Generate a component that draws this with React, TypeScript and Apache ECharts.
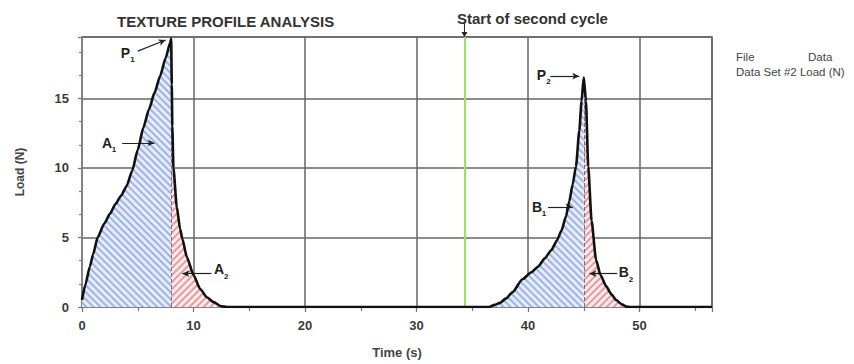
import React, { useEffect, useRef } from 'react';
import * as echarts from 'echarts';

// Time (s) and Load (N) of the measured curve
const timeS = [
  0, 0.3, 0.7, 1.0, 1.4, 2.0, 2.5, 3.0, 3.5, 4.0, 4.5, 5.0, 5.5, 6.0, 6.5, 7.0, 7.5, 7.9, 8.0,
  8.05, 8.1, 8.2, 8.5, 8.8, 9.0, 9.4, 10.0, 10.6, 11.2, 11.8, 12.5, 13.0,
  20, 30, 36.5, 37.0, 37.5, 38.0, 38.6, 39.5, 40.3, 40.9, 41.5, 42.1, 42.6, 43.0, 43.4, 43.7, 44.0, 44.3, 44.6, 44.8, 45.0,
  45.2, 45.4, 45.7, 46.1, 46.5, 47.0, 47.5, 47.9, 48.4, 48.8, 49.2, 56.5,
];
const loadN = [
  0.5, 1.6, 2.9, 3.8, 5.0, 6.0, 6.7, 7.4, 8.0, 8.7, 9.8, 11.3, 12.9, 14.2, 15.4, 16.6, 17.9, 19.0, 19.3,
  16.0, 13.0, 10.0, 7.2, 5.6, 4.9, 3.6, 2.3, 1.3, 0.7, 0.35, 0.05, 0,
  0, 0, 0, 0.15, 0.3, 0.6, 1.05, 2.0, 2.5, 2.9, 3.5, 4.1, 4.8, 5.5, 6.5, 7.6, 8.8, 10.1, 12.7, 14.8, 16.5,
  14.8, 10.1, 6.2, 3.4, 2.3, 1.5, 0.9, 0.5, 0.2, 0.03, 0, 0,
];

// hatched areas: [from, to] in seconds
const areaA1 = [0, 8.0];
const areaA2 = [8.0, 13.0];
const areaB1 = [36.5, 45.0];
const areaB2 = [45.0, 49.2];

const secondCycleStart = 34.3;
const peak1 = [8.0, 19.3];
const peak2 = [45.0, 16.5];

// annotations: letter, subscript, label point, arrow start, arrow end (data coords)
const annLetters = ['P', 'A', 'A', 'P', 'B', 'B'];
const annSubs = ['1', '1', '2', '2', '1', '2'];
const annLabelAt = [[3.9, 18.3], [2.25, 11.8], [12.3, 2.7], [41.2, 16.7], [40.8, 7.2], [48.6, 2.5]];
const annFrom = [[5.0, 18.4], [3.6, 11.8], [11.6, 2.4], [42.0, 16.6], [41.8, 7.2], [48.0, 2.4]];
const annTo = [[7.5, 19.2], [6.5, 11.8], [9.0, 2.4], [44.6, 16.6], [44.0, 7.2], [45.5, 2.4]];

const xTicks = { min: 0, max: 56.5, interval: 10 };
const yTicks = { min: 0, max: 19.42, interval: 5 };

const FONT = '"Liberation Sans", Arial, sans-serif';
const SMOOTH = 0.2;

export default function App() {
  const ref = useRef<HTMLDivElement>(null);
  useEffect(() => {
    document.body.style.margin = '0';
    const chart = echarts.init(ref.current!, null, { renderer: 'svg' });
    const points = timeS.map((t, i) => [t, loadN[i]]);
    const inRange = (r: number[]) => points.filter((p) => p[0] >= r[0] && p[0] <= r[1]);

    const blueDecal = {
      symbol: 'rect', symbolSize: 1, color: '#9fb3e4',
      dashArrayX: [1, 0], dashArrayY: [1.3, 2.4], rotation: Math.PI / 4,
    };
    const redDecal = {
      symbol: 'rect', symbolSize: 1, color: '#e89aa0',
      dashArrayX: [1, 0], dashArrayY: [1.3, 2.4], rotation: -Math.PI / 4,
    };
    const areaSeries = (r: number[], color: string, decal: any) => ({
      type: 'line', data: inRange(r), showSymbol: false, silent: true, z: 2,
      smooth: SMOOTH, smoothMonotone: 'x',
      lineStyle: { width: 0, opacity: 0, decal },
      itemStyle: { decal },
      areaStyle: { color, opacity: 1 },
    });

    const arrowData = annFrom.map((f, i) => [
      { coord: f, symbol: 'none' },
      { coord: annTo[i], symbol: 'arrow', symbolSize: [5, 7] },
    ]);

    chart.setOption({
      animation: false,
      grid: { left: 82, top: 37, right: 142, bottom: 48, show: true, borderColor: '#666', borderWidth: 1.5 },
      xAxis: {
        type: 'value', ...xTicks, offset: 6,
        name: 'Time (s)', nameLocation: 'middle', nameGap: 33,
        nameTextStyle: { fontFamily: FONT, fontWeight: 'bold', fontSize: 13, color: '#444' },
        axisLine: { show: true, lineStyle: { color: '#8a8a8a', width: 1.5 } },
        axisTick: { show: true, length: 5, lineStyle: { color: '#777', width: 1.3 } },
        minorTick: { show: true, splitNumber: 2, length: 4, lineStyle: { color: '#777', width: 1.2 } },
        axisLabel: { fontFamily: FONT, fontWeight: 'bold', fontSize: 13, color: '#3a3a3a', margin: 6, showMaxLabel: false },
        splitLine: { show: true, lineStyle: { color: '#666', width: 1.5 } },
      },
      yAxis: {
        type: 'value', ...yTicks, offset: 6,
        name: 'Load (N)', nameLocation: 'middle', nameGap: 50, nameRotate: 90,
        nameTextStyle: { fontFamily: FONT, fontWeight: 'bold', fontSize: 12, color: '#444' },
        axisLine: { show: true, lineStyle: { color: '#8a8a8a', width: 1.5 } },
        axisTick: { show: true, length: 4, lineStyle: { color: '#777', width: 1.3 } },
        minorTick: { show: true, splitNumber: 3, length: 3, lineStyle: { color: '#777', width: 1.2 } },
        axisLabel: { fontFamily: FONT, fontWeight: 'bold', fontSize: 13, color: '#3a3a3a', margin: 7, showMaxLabel: false },
        splitLine: { show: true, lineStyle: { color: '#666', width: 1.5 } },
      },
      series: [
        areaSeries(areaA1, '#e6ecf9', blueDecal),
        areaSeries(areaA2, '#fcecec', redDecal),
        areaSeries(areaB1, '#e6ecf9', blueDecal),
        areaSeries(areaB2, '#fcecec', redDecal),
        {
          type: 'line', data: points, showSymbol: false, z: 5,
          smooth: SMOOTH, smoothMonotone: 'x',
          lineStyle: { color: '#111', width: 2.6 },
          markLine: {
            silent: true, symbol: 'none', label: { show: false }, animation: false,
            data: [
              [{ coord: [peak1[0], 0], lineStyle: { color: '#6d7390', type: 'dashed', width: 1 } }, { coord: peak1 }],
              [{ coord: [peak2[0], 0], lineStyle: { color: '#6d7390', type: 'dashed', width: 1 } }, { coord: peak2 }],
              { xAxis: secondCycleStart, lineStyle: { color: '#9be35f', type: 'solid', width: 2 } },
            ],
          },
        },
        {
          type: 'line', data: [], z: 6,
          markLine: {
            silent: true, label: { show: false }, animation: false,
            lineStyle: { color: '#222', type: 'solid', width: 1.2 },
            data: arrowData,
          },
        },
      ],
    });

    const px = (p: number[]) => chart.convertToPixel({ gridIndex: 0 }, p) as number[];
    const graphics: any[] = [];
    annLetters.forEach((l, i) => {
      const p = px(annLabelAt[i]);
      graphics.push({
        type: 'text', x: p[0], y: p[1], z: 20,
        style: { text: l, font: `bold 14px ${FONT}`, fill: '#222', align: 'center', verticalAlign: 'middle' },
      });
      graphics.push({
        type: 'text', x: p[0] + 7, y: p[1] + 7, z: 20,
        style: { text: annSubs[i], font: `bold 8px ${FONT}`, fill: '#222', align: 'center', verticalAlign: 'middle' },
      });
    });
    const g = px([secondCycleStart, yTicks.max]);
    graphics.push(
      { type: 'line', z: 20, shape: { x1: g[0], y1: g[1] - 14, x2: g[0], y2: g[1] - 2 }, style: { stroke: '#222', lineWidth: 1 } },
      { type: 'polygon', z: 20, shape: { points: [[g[0] - 3, g[1] - 5], [g[0] + 3, g[1] - 5], [g[0], g[1]]] }, style: { fill: '#222' } },
      { type: 'text', x: 457, y: 18, style: { text: 'Start of second cycle', font: `bold 15px ${FONT}`, fill: '#333', verticalAlign: 'middle' } },
      { type: 'text', x: 117, y: 21, style: { text: 'TEXTURE PROFILE ANALYSIS', font: `bold 15px ${FONT}`, fill: '#333', verticalAlign: 'middle' } },
      { type: 'text', x: 736, y: 57, style: { text: 'File', font: `11.5px ${FONT}`, fill: '#444', verticalAlign: 'middle' } },
      { type: 'text', x: 808, y: 57, style: { text: 'Data', font: `11.5px ${FONT}`, fill: '#444', verticalAlign: 'middle' } },
      { type: 'text', x: 736, y: 72, style: { text: 'Data Set #2 Load (N)', font: `11.5px ${FONT}`, fill: '#444', verticalAlign: 'middle' } },
    );
    chart.setOption({ graphic: graphics });

    return () => chart.dispose();
  }, []);
  return <div ref={ref} style={{ width: 854, height: 364 }} />;
}
